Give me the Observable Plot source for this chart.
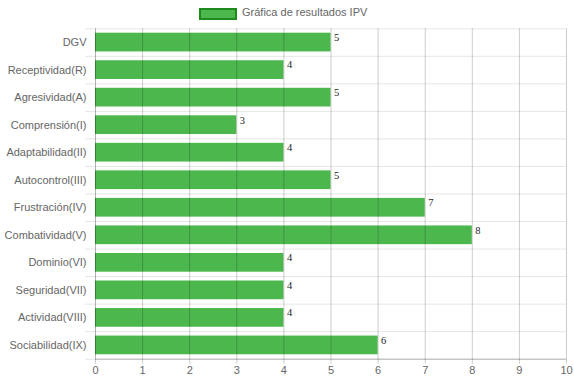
<!DOCTYPE html>
<html><head><meta charset="utf-8">
<script src="https://cdn.jsdelivr.net/npm/d3@7"></script>
<script src="https://cdn.jsdelivr.net/npm/@observablehq/plot@0.6"></script>
<style>
body{margin:0;background:#fff;font-family:"Liberation Sans",Arial,sans-serif;}
#legend{position:relative;height:25px;width:574px;}
#legend .box{position:absolute;left:199px;top:8px;width:34px;height:8px;background:#4cb74c;border:2px solid #1d8a1d;}
#legend .lab{position:absolute;left:242px;top:5px;font-size:11px;color:#666;line-height:14px;}
#chart svg{display:block;}
</style></head>
<body>
<div id="legend"><div class="box"></div><div class="lab">Gráfica de resultados IPV</div></div>
<div id="chart"></div>
<script>
const categories = ["DGV","Receptividad(R)","Agresividad(A)","Comprensión(I)","Adaptabilidad(II)","Autocontrol(III)","Frustración(IV)","Combatividad(V)","Dominio(VI)","Seguridad(VII)","Actividad(VIII)","Sociabilidad(IX)"];
const values = [5,4,5,3,4,5,7,8,4,4,4,6];
const xTicks = [0,1,2,3,4,5,6,7,8,9,10];
const data = categories.map((c,i)=>({c, v: values[i]}));

const W = 574, H = 358, mT = 3.3, mB = 24.3, mL = 95, mR = 8;
const step = (H - mT - mB) / categories.length;

const chart = Plot.plot({
  width: W, height: H,
  marginTop: mT, marginBottom: mB, marginLeft: mL, marginRight: mR,
  style: {fontFamily: '"Liberation Sans", Arial, sans-serif', fontSize: "11px", background: "#fff"},
  x: {domain: [0,10], ticks: xTicks},
  y: {domain: categories, paddingInner: 0.32, paddingOuter: 0.16, round: false},
  marks: [
    Plot.barX(data, {x: "v", y: "c", fill: "#4cb74c"}),
    Plot.ruleY(data, {y: "c", dy: step/2, x1: -0.21, x2: 10, stroke: "rgba(0,0,0,0.1)"}),
    Plot.ruleY([categories[0]], {y: d=>d, dy: -step/2, x1: -0.21, x2: 10, stroke: "rgba(0,0,0,0.1)"}),
    Plot.ruleX(xTicks.slice(1), {stroke: "rgba(0,0,0,0.2)"}),
    Plot.ruleX([0], {stroke: "rgba(0,0,0,0.3)"}),
    Plot.ruleY(data.slice(-1), {y: "c", dy: step/2, x1: 0, x2: 10, stroke: "rgba(0,0,0,0.25)"}),
    Plot.axisX({ticks: xTicks, tickSize: 5, tickPadding: 2, stroke: "rgba(0,0,0,0.2)", fill: "#666", label: null, fontSize: 11}),
    Plot.axisY({tickSize: 0, tickPadding: 9, fill: "#666", label: null, fontSize: 11}),
    Plot.text(data, {x: "v", y: "c", text: d=>String(d.v), dx: 3, dy: -5, textAnchor: "start", fill: "#222", fontFamily: '"Liberation Serif", "DejaVu Serif", serif', fontSize: 10.5})
  ]
});
document.getElementById("chart").appendChild(chart);
</script>
</body></html>
